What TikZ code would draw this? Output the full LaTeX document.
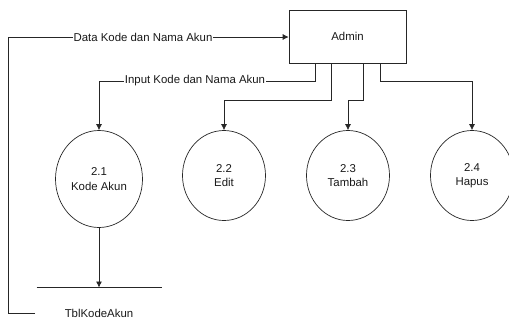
\documentclass[tikz,border=0pt]{standalone}
\usepackage{fontspec}
\setmainfont{Liberation Sans}
\usetikzlibrary{arrows.meta,shapes.geometric}
\begin{document}
\begin{tikzpicture}[x=1pt,y=-1pt,
  every node/.style={font=\fontsize{11.4}{14.5}\selectfont, text=black!90},
  line/.style={draw=black!85, line width=0.7pt},
  flow/.style={line, -{Latex[length=6pt,width=6pt]}},
  proc/.style={ellipse, draw=black!85, line width=0.7pt, inner sep=0pt, align=center},
  entity/.style={rectangle, draw=black!85, line width=0.7pt, inner sep=0pt, minimum width=117pt, minimum height=53pt},
  lbl/.style={fill=white, inner sep=1pt}]
\useasboundingbox (0,0) rectangle (509,322);
% entity
\node[entity] (admin) at (347.5,36.5) {Admin};
% processes
\node[proc, minimum width=87pt, minimum height=97pt] (c21) at (99,179) {2.1\\Kode Akun};
\node[proc, minimum width=83pt, minimum height=90pt] (c22) at (224,175.5) {2.2\\Edit};
\node[proc, minimum width=83pt, minimum height=90pt] (c23) at (348,175.5) {2.3\\Tambah};
\node[proc, minimum width=83pt, minimum height=90pt] (c24) at (472,175.5) {2.4\\Hapus};
% data store
\coordinate (sL) at (36.5,287.5);
\coordinate (sR) at (161.5,287.5);
\coordinate (sTop) at (99,287.5);
\node (tbl) at (99,313) {TblKodeAkun};
\draw[line] (sL) -- (sR);
\draw[flow] (c21.south) -- (sTop);
% exit points on Admin
\coordinate (a1) at (315,63);
\coordinate (a2) at (331,63);
\coordinate (a3) at (363.5,63);
\coordinate (a4) at (380,63);
\draw[flow] (a1) -- ++(0,18) -| (c21.north);
\draw[flow] (a2) -- ++(0,37) -| (c22.north);
\draw[flow] (a3) -- ++(0,37) -| (c23.north);
\draw[flow] (a4) -- ++(0,18) -| (c24.north);
\node[lbl] (lin) at (195,81) {Input Kode dan Nama Akun};
% data back to Admin
\coordinate (d0) at (35,313);
\coordinate (d1) at (8.5,313);
\coordinate (d2) at (8.5,37);
\draw[flow] (d0) -- (d1) -- (d2) -- (d2 -| admin.west);
\node[lbl] (ldata) at (143,37) {Data Kode dan Nama Akun};
\end{tikzpicture}
\end{document}
